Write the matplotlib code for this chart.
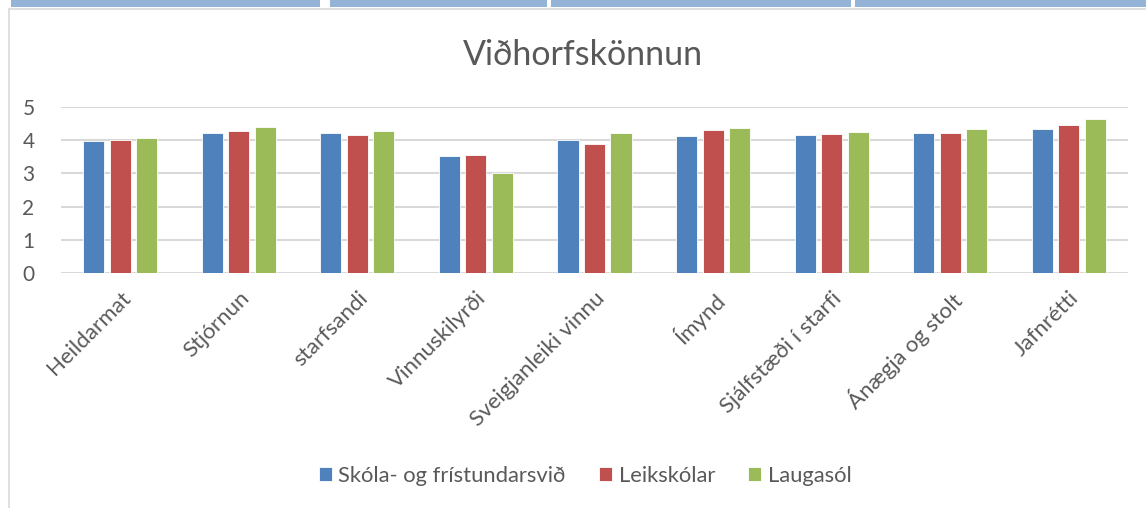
import matplotlib
matplotlib.use('Agg')
import matplotlib.pyplot as plt
import numpy as np

plt.rcParams['font.family'] = ['Lato', 'DejaVu Sans']

# gögn
flokkar = ['Heildarmat', 'Stjórnun', 'starfsandi', 'Vinnuskilyrði', 'Sveigjanleiki vinnu',
           'Ímynd', 'Sjálfstæði í starfi', 'Ánægja og stolt', 'Jafnrétti']
skola_fristund = [3.99, 4.21, 4.22, 3.52, 4.00, 4.14, 4.16, 4.21, 4.35]
leikskolar = [4.02, 4.27, 4.16, 3.55, 3.90, 4.30, 4.19, 4.21, 4.46]
laugasol = [4.08, 4.40, 4.27, 3.01, 4.21, 4.36, 4.26, 4.33, 4.65]
nofn = ['Skóla- og frístundarsvið', 'Leikskólar', 'Laugasól']
litir = ['#4F81BD', '#C0504D', '#9BBB59']
texti = '#595959'

fig = plt.figure(figsize=(11.46, 5.08), dpi=100)

# bláu stikurnar efst (hluti af töflu fyrir ofan)
for x0, x1 in [(11, 320), (330, 547), (551, 851), (855, 1146)]:
    fig.patches.append(plt.Rectangle((x0 / 1146, 1 - 7 / 508), (x1 - x0) / 1146, 7 / 508,
                                     transform=fig.transFigure, color='#95B3D7', lw=0))
# rammi
fig.patches.append(plt.Rectangle((9 / 1146, -0.01), 1.02, 1 - 9 / 508 + 0.01,
                                 transform=fig.transFigure, fill=False, ec='#D9D9D9', lw=1.2))

ax = fig.add_axes([61 / 1146, 235.3 / 508, 1067 / 1146, 165.4 / 508])
x = np.arange(len(flokkar))
bil = 0.2235
for i, (gildi, nafn) in enumerate(zip([skola_fristund, leikskolar, laugasol], nofn)):
    ax.bar(x + (i - 1) * bil, gildi, width=0.178, color=litir[i], label=nafn,
           edgecolor='white', linewidth=0.6, zorder=3)

ax.set_xlim(-0.5, len(flokkar) - 0.5)
ax.set_ylim(0, 5)
ax.set_yticks(range(6))
ax.yaxis.grid(True, color='#D9D9D9', lw=1.5, zorder=0)
for s in ax.spines.values():
    s.set_visible(False)
ax.tick_params(axis='y', length=0, labelsize=15, labelcolor=texti, pad=19)
ax.set_xticks(x)
ax.set_xticklabels(flokkar, rotation=45, ha='right', rotation_mode='anchor')
ax.tick_params(axis='x', length=0, labelsize=16, labelcolor=texti, pad=11)

fig.text(583 / 1146, 1 - 55 / 508, 'Viðhorfskönnun', ha='center', va='center',
         fontsize=24.5, color=texti)

fig.legend(loc='center', bbox_to_anchor=(585 / 1146, 1 - 476 / 508), ncol=3, frameon=False,
           fontsize=15.8, labelcolor=texti, handlelength=0.6, handleheight=0.6,
           handletextpad=0.3, columnspacing=1.5)

fig.savefig('out.png', dpi=100)
